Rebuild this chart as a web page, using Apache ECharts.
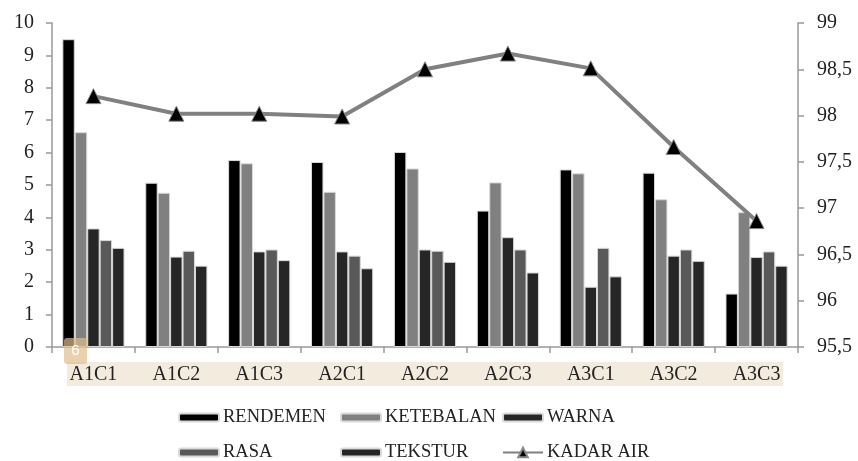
<!DOCTYPE html>
<html><head><meta charset="utf-8">
<script src="https://cdn.jsdelivr.net/npm/echarts@6/dist/echarts.min.js"></script>
<style>html,body{margin:0;padding:0;background:#fff}#c{width:858px;height:461px}</style>
</head><body><div id="c"></div>
<script>
const categories = ['A1C1','A1C2','A1C3','A2C1','A2C2','A2C3','A3C1','A3C2','A3C3'];
const rendemen  = [9.50, 5.07, 5.77, 5.71, 6.02, 4.21, 5.48, 5.38, 1.65];
const ketebalan = [6.63, 4.76, 5.67, 4.79, 5.51, 5.08, 5.36, 4.56, 4.16];
const warna     = [3.66, 2.79, 2.95, 2.95, 3.01, 3.39, 1.86, 2.82, 2.78];
const rasa      = [3.30, 2.97, 3.01, 2.82, 2.97, 3.01, 3.06, 3.01, 2.95];
const tekstur   = [3.06, 2.51, 2.68, 2.43, 2.63, 2.30, 2.18, 2.66, 2.51];
const kadarAir  = [98.21, 98.02, 98.02, 97.99, 98.50, 98.67, 98.51, 97.66, 96.86];

const FONT = '"Liberation Serif","DejaVu Serif",serif';
const chart = echarts.init(document.getElementById('c'));
function bar(name, data, color){
  return {name, type:'bar', data, yAxisIndex:0, barGap:'0%', barCategoryGap:'25%',
    itemStyle:{color, borderColor:'#d9d9d9', borderWidth:1}};
}
function leg(name, left, top){
  return {data:[name], left, top, padding:0, orient:'horizontal', itemWidth:40, itemHeight:8, itemGap:0,
    textStyle:{fontFamily:FONT, fontSize:18.5, color:'#222', padding:[0,0,0,-1]}};
}
chart.setOption({
  animation:false,
  grid:{left:52, right:60, top:23, bottom:114},
  graphic:[
    {type:'rect', shape:{x:67, y:362, width:716, height:24}, style:{fill:'#f4ebdf'}, z:-1},
    {type:'rect', shape:{x:64, y:338, width:23, height:26, r:3}, style:{fill:'rgba(225,190,140,0.7)'}, z:100},
    {type:'text', x:75.5, y:351, style:{text:'6', fill:'#fff', font:'15px sans-serif', align:'center', verticalAlign:'middle'}, z:101}
  ],
  legend:[
    leg('RENDEMEN',178,408), leg('KETEBALAN',340,408), leg('WARNA',502,408),
    leg('RASA',178,443), leg('TEKSTUR',340,443),
    Object.assign(leg('KADAR AIR',502,443), {itemHeight:12})
  ],
  xAxis:{type:'category', data:categories, boundaryGap:true,
    axisLine:{lineStyle:{color:'#999', width:1.5}},
    axisTick:{show:true, length:6, lineStyle:{color:'#999', width:1.5}},
    axisLabel:{fontFamily:FONT, fontSize:20, color:'#222', margin:18}},
  yAxis:[
    {type:'value', min:0, max:10, interval:1, splitLine:{show:false},
     axisLine:{show:true, lineStyle:{color:'#999', width:1.5}},
     axisTick:{show:true, length:6, lineStyle:{color:'#999', width:1.5}},
     axisLabel:{fontFamily:FONT, fontSize:20, color:'#222', margin:18}},
    {type:'value', min:95.5, max:99, interval:0.5, position:'right', splitLine:{show:false},
     axisLine:{show:true, lineStyle:{color:'#999', width:1.5}},
     axisTick:{show:true, length:6, lineStyle:{color:'#999', width:1.5}},
     axisLabel:{fontFamily:FONT, fontSize:20, color:'#222', margin:19,
       formatter:v=>String(v).replace('.',',')}}
  ],
  series:[
    bar('RENDEMEN', rendemen, '#000000'),
    bar('KETEBALAN', ketebalan, '#808080'),
    bar('WARNA', warna, '#262626'),
    bar('RASA', rasa, '#595959'),
    bar('TEKSTUR', tekstur, '#262626'),
    {name:'KADAR AIR', type:'line', data:kadarAir, yAxisIndex:1,
     lineStyle:{color:'#808080', width:4}, itemStyle:{color:'#000', borderColor:'#888', borderWidth:1},
     symbol:'triangle', symbolSize:15, z:10}
  ]
});
</script></body></html>
